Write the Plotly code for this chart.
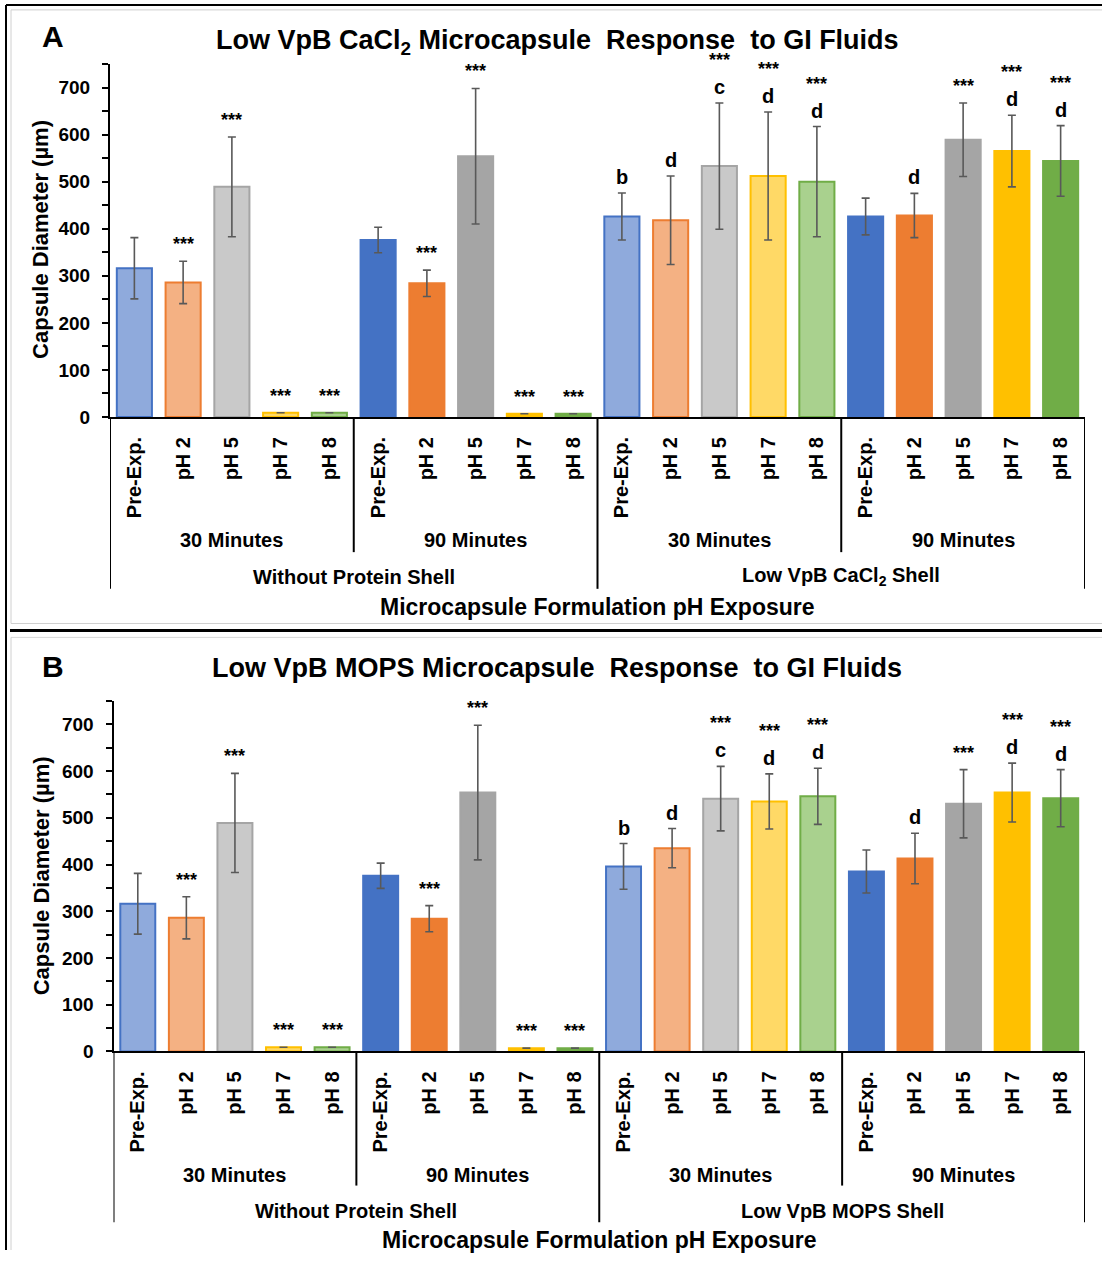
import plotly.graph_objects as go

# ---------------- data ----------------
ph_labels = ["Pre-Exp.", "pH 2", "pH 5", "pH 7", "pH 8"]
time_groups = ["30 Minutes", "90 Minutes", "30 Minutes", "90 Minutes"]
shell_groups_A = ["Without Protein Shell", "Low VpB CaCl<sub>2</sub> Shell"]
shell_groups_B = ["Without Protein Shell", "Low VpB MOPS Shell"]

mean_A = [316, 286, 489, 9, 9, 376, 284, 554, 7, 7,
          426, 418, 533, 512, 500, 426, 428, 589, 565, 544]
err_A = [65, 45, 106, None, None, 27, 28, 144, None, None,
         50, 94, 134, 136, 117, 39, 47, 78, 76, 75]

mean_B = [316, 286, 489, 9, 9, 376, 284, 554, 7, 7,
          396, 435, 541, 535, 546, 385, 413, 530, 554, 542]
err_B = [65, 45, 106, None, None, 27, 28, 144, None, None,
         49, 42, 69, 59, 60, 46, 54, 73, 63, 61]

stars = [None, "***", "***", "***", "***", None, "***", "***", "***", "***",
         None, None, "***", "***", "***", None, None, "***", "***", "***"]
letters = [None] * 10 + ["b", "d", "c", "d", "d", None, "d", None, "d", "d"]

title_A = "Low VpB CaCl<sub>2</sub> Microcapsule  Response  to GI Fluids"
title_B = "Low VpB MOPS Microcapsule  Response  to GI Fluids"
y_title = "Capsule Diameter (µm)"
x_title = "Microcapsule Formulation pH Exposure"

# ---------------- styles ----------------
FONT = "Liberation Sans, Arial, sans-serif"
light_fill = ["#8FAADC", "#F4B183", "#C9C9C9", "#FFD966", "#A9D18E"]
light_line = ["#4472C4", "#ED7D31", "#A5A5A5", "#FFC000", "#70AD47"]
dark_fill = ["#4472C4", "#ED7D31", "#A5A5A5", "#FFC000", "#70AD47"]

W, H = 1102, 1261


def px_x(v):
    return v / W


def px_y(v):
    return 1 - v / H


n = len(mean_A)
cat_labels = [ph_labels[i % 5] for i in range(n)]
fills, lines = [], []
for i in range(n):
    g = (i // 5) % 2
    if g == 0:
        fills.append(light_fill[i % 5]); lines.append(light_line[i % 5])
    else:
        fills.append(dark_fill[i % 5]); lines.append(dark_fill[i % 5])

fig = go.Figure()
annotations = []
shapes = []

panels = [
    dict(mean=mean_A, err=err_A, xa="x", ya="y", title=title_A, shells=shell_groups_A,
         x0=110, x1=1085, y0=420.7, ppu=0.4749, letter="A", letter_y=37, title_y=42,
         ytitle_y=242, mid_line=557, out_line=594, time_y=545, shell_y=582, xt_y=612),
    dict(mean=mean_B, err=err_B, xa="x2", ya="y2", title=title_B, shells=shell_groups_B,
         x0=113.5, x1=1085, y0=1060.7, ppu=0.4714, letter="B", letter_y=672, title_y=674,
         ytitle_y=884, mid_line=1196, out_line=1233, time_y=1185, shell_y=1222, xt_y=1251),
]

layout_axes = {}
for k, p in enumerate(panels):
    xs = list(range(n))
    err_vals = [e if e is not None else float("nan") for e in p["err"]]
    fig.add_trace(go.Bar(
        x=xs, y=p["mean"], xaxis=p["xa"], yaxis=p["ya"],
        marker=dict(color=fills, line=dict(color=lines, width=2)),
        error_y=dict(type="data", array=err_vals, visible=True,
                     color="#595959", thickness=1.6, width=4),
        showlegend=False, hoverinfo="skip",
    ))
    ytop_px = p["y0"] - 750 * p["ppu"]
    xkey = "xaxis" if k == 0 else "xaxis2"
    ykey = "yaxis" if k == 0 else "yaxis2"
    layout_axes[xkey] = dict(
        domain=[px_x(p["x0"]), px_x(p["x1"])], range=[-0.5, n - 0.5],
        anchor=p["ya"], showline=True, linecolor="black", linewidth=2,
        tickvals=xs, ticktext=["<b>%s</b>" % t for t in cat_labels],
        tickangle=-90, ticks="", ticklabelstandoff=10,
        tickfont=dict(family=FONT, size=20, color="black"),
        showgrid=False, zeroline=False, fixedrange=True,
    )
    layout_axes[ykey] = dict(
        domain=[px_y(p["y0"]), px_y(ytop_px)], range=[0, 750],
        anchor=p["xa"], showline=True, linecolor="black", linewidth=2,
        tickvals=[0, 100, 200, 300, 400, 500, 600, 700],
        ticktext=["<b>%d</b>" % v for v in [0, 100, 200, 300, 400, 500, 600, 700]],
        ticks="outside", ticklen=6, tickwidth=1.5, tickcolor="black",
        minor=dict(tickvals=[50, 150, 250, 350, 450, 550, 650, 750],
                   ticks="outside", ticklen=6, tickwidth=1.5, tickcolor="black"),
        ticklabelstandoff=8,
        tickfont=dict(family=FONT, size=19, color="black"),
        showgrid=False, zeroline=False, fixedrange=True,
    )

    # significance annotations
    for i in range(n):
        top = p["mean"][i] + (p["err"][i] or 0)
        if letters[i]:
            annotations.append(dict(x=i, y=top, xref=p["xa"], yref=p["ya"],
                                    text="<b>%s</b>" % letters[i], showarrow=False,
                                    yanchor="bottom", yshift=3,
                                    font=dict(family=FONT, size=20, color="black")))
            if stars[i]:
                annotations.append(dict(x=i, y=top, xref=p["xa"], yref=p["ya"],
                                        text="<b>%s</b>" % stars[i], showarrow=False,
                                        yanchor="bottom", yshift=31,
                                        font=dict(family=FONT, size=18, color="black")))
        elif stars[i]:
            annotations.append(dict(x=i, y=top, xref=p["xa"], yref=p["ya"],
                                    text="<b>%s</b>" % stars[i], showarrow=False,
                                    yanchor="bottom", yshift=5,
                                    font=dict(family=FONT, size=18, color="black")))

    # hierarchical category axis
    for g in range(4):
        annotations.append(dict(x=g * 5 + 2, y=px_y(p["time_y"]), xref=p["xa"], yref="paper",
                                text="<b>%s</b>" % time_groups[g], showarrow=False,
                                yanchor="middle",
                                font=dict(family=FONT, size=20, color="black")))
    for s in range(2):
        annotations.append(dict(x=s * 10 + 4.5, y=px_y(p["shell_y"]), xref=p["xa"], yref="paper",
                                text="<b>%s</b>" % p["shells"][s], showarrow=False,
                                yanchor="middle",
                                font=dict(family=FONT, size=20, color="black")))
    annotations.append(dict(x=(n - 1) / 2, y=px_y(p["xt_y"]), xref=p["xa"], yref="paper",
                            text="<b>%s</b>" % x_title, showarrow=False, yanchor="middle",
                            font=dict(family=FONT, size=23, color="black")))
    for b in range(5):
        xb = b * 5 - 0.5
        yend = p["out_line"] if b % 2 == 0 else p["mid_line"]
        shapes.append(dict(type="line", xref=p["xa"], yref="paper",
                           x0=xb, x1=xb, y0=px_y(p["y0"]), y1=px_y(yend),
                           line=dict(color="black", width=2)))
    # titles
    annotations.append(dict(x=px_x(557), y=px_y(p["title_y"]), xref="paper", yref="paper",
                            text="<b>%s</b>" % p["title"], showarrow=False, yanchor="middle",
                            font=dict(family=FONT, size=27, color="black")))
    annotations.append(dict(x=px_x(40), y=px_y(p["letter_y"]), xref="paper", yref="paper",
                            text="<b>%s</b>" % p["letter"], showarrow=False, yanchor="middle",
                            font=dict(family=FONT, size=30, color="black")))
    annotations.append(dict(x=px_x(41), y=px_y(p["ytitle_y"]), xref="paper", yref="paper",
                            text="<b>%s</b>" % y_title, showarrow=False, textangle=-90,
                            xanchor="center", yanchor="middle",
                            font=dict(family=FONT, size=22, color="black")))

# frame lines
frame = [
    (6, 5, 6, H, "black", 2), (6, 5, W, 5, "black", 2),
    (11, 10, 11, 629, "#D0D0D0", 1), (11, 10, W, 10, "#D0D0D0", 1),
    (11, 629, W, 629, "#D0D0D0", 1),
    (10, 636, W, 636, "black", 3),
    (11, 643, W, 643, "#D8D8D8", 1), (11, 643, 11, H, "#D0D0D0", 1),
]
for x0, y0, x1, y1, c, w in frame:
    shapes.append(dict(type="line", xref="paper", yref="paper",
                       x0=px_x(x0), y0=px_y(y0), x1=px_x(x1), y1=px_y(y1),
                       line=dict(color=c, width=w)))

fig.update_layout(
    width=W, height=H, margin=dict(l=0, r=0, t=0, b=0),
    paper_bgcolor="white", plot_bgcolor="white",
    bargap=0.28, annotations=annotations, shapes=shapes,
    font=dict(family=FONT, color="black"),
    **layout_axes,
)

page_fix = (
    "document.documentElement.style.cssText='margin:0;padding:0;overflow:hidden;';"
    "document.body.style.cssText='margin:0;padding:0;overflow:hidden;';"
)
fig.write_html("out.html", config={"displayModeBar": False}, post_script=page_fix)
